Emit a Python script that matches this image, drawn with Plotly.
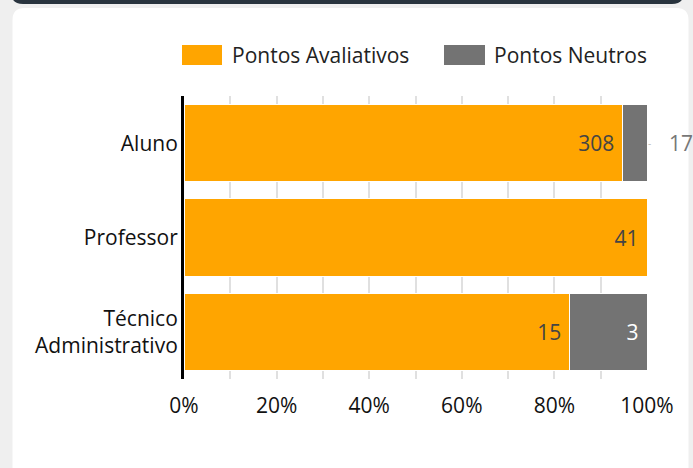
import plotly.graph_objects as go

categorias = ["Aluno", "Professor", "Técnico<br>Administrativo"]
series = ["Pontos Avaliativos", "Pontos Neutros"]
avaliativos = [308, 41, 15]
neutros = [17, 0, 3]
cores = ["#FFA500", "#737373"]

W, H = 693, 468
L, R, T, B = 184, 46, 96, 89
pw, ph = W - L - R, H - T - B


def px(x):
    return (x - L) / pw


def py(y):
    return (H - B - y) / ph


fonte = "Open Sans, sans-serif"
tam = 21
folga = "\u00a0"

fig = go.Figure()
fig.add_trace(go.Bar(
    y=categorias, x=avaliativos, orientation="h", name=series[0],
    marker=dict(color=cores[0], line=dict(color="white", width=1)),
    text=[str(v) + folga for v in avaliativos], textposition="inside",
    insidetextanchor="end", textfont=dict(color="#444444", size=tam),
    hoverinfo="skip",
))
fig.add_trace(go.Bar(
    y=categorias, x=neutros, orientation="h", name=series[1],
    marker=dict(color=cores[1], line=dict(color="white", width=1)),
    text=[str(v) + folga if v and v / (v + a) > 0.1 else ""
          for v, a in zip(neutros, avaliativos)],
    textposition="inside", insidetextanchor="end",
    textfont=dict(color="white", size=tam),
    hoverinfo="skip",
))

# rótulos de barras estreitas ficam fora
for c, v, a in zip(categorias, neutros, avaliativos):
    if v and v / (v + a) <= 0.1:
        fig.add_annotation(x=100, y=c, text=str(v), showarrow=False,
                           xanchor="left", yanchor="middle", xshift=20,
                           font=dict(color="#777777", size=tam))
        fig.add_annotation(x=100, y=c, text="-", showarrow=False,
                           xanchor="left", yanchor="middle", xshift=-1,
                           font=dict(color="#bbbbbb", size=10))

# cartão de fundo
x0, x1, y0, y1, r = px(12.5), px(688.5), py(8), py(480), 12
rx, ry = r / pw, r / ph
fig.add_shape(type="path", xref="paper", yref="paper", layer="below",
              path=f"M{x0},{y1} L{x0},{y0 - ry} Q{x0},{y0} {x0 + rx},{y0} "
                   f"L{x1 - rx},{y0} Q{x1},{y0} {x1},{y0 - ry} L{x1},{y1} Z",
              fillcolor="white", line=dict(width=0))
# barra escura no topo
d0, d1, e0, e1 = px(11), px(684), py(-10), py(4)
fig.add_shape(type="path", xref="paper", yref="paper", layer="below",
              path=f"M{d0},{e0} L{d0},{e1 + ry} Q{d0},{e1} {d0 + rx},{e1} "
                   f"L{d1 - rx},{e1} Q{d1},{e1} {d1},{e1 + ry} L{d1},{e0} Z",
              fillcolor="#29343e", line=dict(width=0))

# legenda
lx = [(182, 222, 230), (444, 485, 492)]
for (a, b, t), nome, cor in zip(lx, series, cores):
    fig.add_shape(type="rect", xref="paper", yref="paper",
                  x0=px(a), x1=px(b), y0=py(65), y1=py(45),
                  fillcolor=cor, line=dict(width=0))
    fig.add_annotation(xref="paper", yref="paper", x=px(t), y=py(55),
                       text=nome, showarrow=False, xanchor="left",
                       yanchor="middle",
                       font=dict(size=tam, color="#222222"))

fig.update_layout(
    barmode="stack", barnorm="percent", bargap=0.18,
    width=W, height=H, margin=dict(l=L, r=R, t=T, b=B),
    paper_bgcolor="#efefef", plot_bgcolor="rgba(0,0,0,0)",
    font=dict(family=fonte, color="#111111"),
    showlegend=False,
)
fig.update_xaxes(range=[0, 100], dtick=20, ticksuffix="%",
                 showgrid=True, gridcolor="#e0e0e0", gridwidth=2,
                 minor=dict(dtick=10, showgrid=True, gridcolor="#e0e0e0", gridwidth=2),
                 zeroline=False, tickfont=dict(size=tam), ticks="", ticklen=0,
                 ticklabelstandoff=12, fixedrange=True)
fig.update_yaxes(categoryorder="array", categoryarray=categorias[::-1],
                 showline=True, linecolor="black", linewidth=3,
                 showgrid=False, tickfont=dict(size=tam), ticks="",
                 ticklabelstandoff=-1, fixedrange=True)

fig.write_html("out.html", config={"displayModeBar": False},
               post_script="document.body.style.margin='0';")
